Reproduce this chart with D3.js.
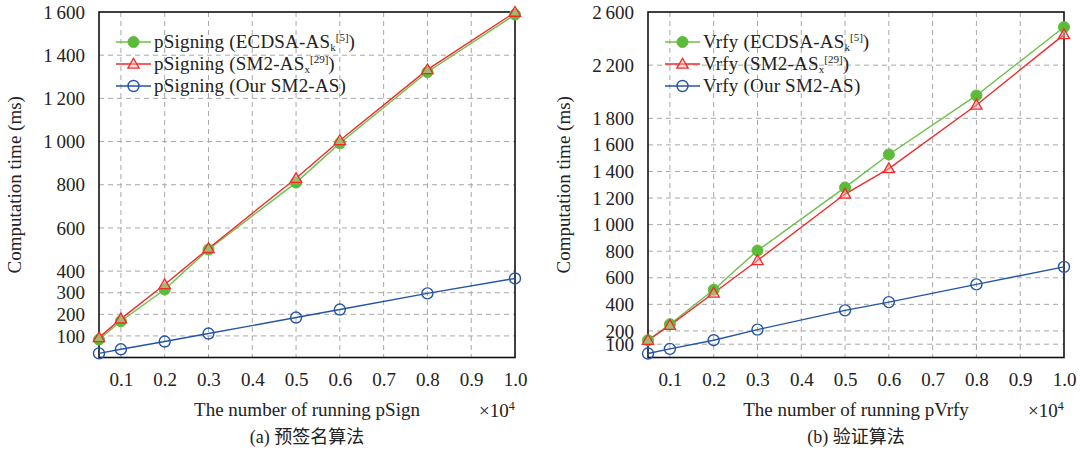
<!DOCTYPE html>
<html><head><meta charset="utf-8">
<script src="https://cdn.jsdelivr.net/npm/d3@7"></script>
<style>
html,body{margin:0;padding:0;background:#fff;}
svg text{font-family:"Liberation Serif","Times New Roman",serif;fill:#222;}
.cap{font-family:"Liberation Serif","Noto Sans CJK SC",serif;}
</style></head>
<body><svg id="c" width="1080" height="455"></svg>
<script>
const xValues = [0.05, 0.1, 0.2, 0.3, 0.5, 0.6, 0.8, 1.0];
const xTicks = [0.1, 0.2, 0.3, 0.4, 0.5, 0.6, 0.7, 0.8, 0.9, 1.0];

const signEcdsa = [83, 168, 315, 500, 810, 992, 1322, 1588];
const signSm2x  = [92, 179, 338, 505, 830, 1005, 1333, 1599];
const signOurs  = [19, 38, 74, 111, 185, 222, 297, 366];
const signYTicks = [100, 200, 300, 400, 600, 800, 1000, 1200, 1400, 1600];

const vrfyEcdsa = [130, 250, 510, 805, 1280, 1528, 1972, 2487];
const vrfySm2x  = [130, 242, 485, 730, 1230, 1422, 1900, 2430];
const vrfyOurs  = [30, 65, 130, 210, 355, 417, 550, 682];
const vrfyYTicks = [100, 200, 400, 600, 800, 1000, 1200, 1400, 1600, 1800, 2200, 2600];

const colGreen = "#6cc04a", colGreenFill = "#5dbb3c";
const colRed = "#ee2a2a", colBlue = "#2454a8";

const svg = d3.select("#c");
const fmt = v => { const s = String(v); return s.length > 3 ? s.slice(0, s.length-3) + "\u2009" + s.slice(-3) : s; };

function panel(opt){
  const g = svg.append("g");
  const x = d3.scaleLinear().domain([0.05, 1.0]).range([opt.left, opt.right]);
  const y = d3.scaleLinear().domain([0, opt.ymax]).range([opt.bottom, opt.top]);

  g.selectAll(".vg").data(xTicks.filter(t => t < 1.0)).enter().append("line")
    .attr("x1", d => x(d)).attr("x2", d => x(d)).attr("y1", opt.top).attr("y2", opt.bottom)
    .attr("stroke", "#a8a8a8").attr("stroke-width", 1).attr("stroke-dasharray", "5,4");
  g.selectAll(".hg").data(opt.yTicks.filter(t => t < opt.ymax)).enter().append("line")
    .attr("x1", opt.left).attr("x2", opt.right).attr("y1", d => y(d)).attr("y2", d => y(d))
    .attr("stroke", "#a8a8a8").attr("stroke-width", 1).attr("stroke-dasharray", "5,4");

  const ax = g.append("g").attr("transform", `translate(0,${opt.bottom})`)
    .call(d3.axisBottom(x).tickValues(xTicks).tickFormat(d3.format(".1f")).tickSize(0).tickPadding(15));
  ax.select(".domain").remove();
  ax.selectAll("text").style("font-size", "19px").attr("fill", "#222");
  const ay = g.append("g").attr("transform", `translate(${opt.left},0)`)
    .call(d3.axisLeft(y).tickValues(opt.yTicks).tickFormat(fmt).tickSize(0).tickPadding(14));
  ay.select(".domain").remove();
  ay.selectAll("text").style("font-size", "19px").attr("fill", "#222");

  g.append("rect").attr("x", opt.left).attr("y", opt.top)
    .attr("width", opt.right - opt.left).attr("height", opt.bottom - opt.top)
    .attr("fill", "none").attr("stroke", "#111").attr("stroke-width", 1.6);

  const line = d3.line().x((d, i) => x(xValues[i])).y(d => y(d));
  const series = [
    {v: opt.ours, c: colBlue, m: "o"},
    {v: opt.ecdsa, c: colGreen, m: "g"},
    {v: opt.sm2x, c: colRed, m: "t"}
  ];
  const tri = d3.symbol().type(d3.symbolTriangle).size(55);
  function marker(sel, m, px, py){
    if (m === "g") sel.append("circle").attr("cx", px).attr("cy", py).attr("r", 5.5).attr("fill", colGreenFill).attr("stroke", colGreenFill);
    else if (m === "o") sel.append("circle").attr("cx", px).attr("cy", py).attr("r", 5.5).attr("fill", "none").attr("stroke", colBlue).attr("stroke-width", 1.4);
    else sel.append("path").attr("d", tri).attr("transform", `translate(${px},${py+0.8})`).attr("fill", "rgba(255,180,180,0.45)").attr("stroke", colRed).attr("stroke-width", 1.3);
  }
  series.forEach(s => {
    g.append("path").datum(s.v).attr("d", line).attr("fill", "none").attr("stroke", s.c).attr("stroke-width", 1.4);
  });
  series.forEach(s => {
    s.v.forEach((v, i) => marker(g, s.m, x(xValues[i]), y(v)));
  });

  const leg = [
    {c: colGreen, m: "g", pre: opt.prefix + " (ECDSA-AS", sub: "k", sup: "[5]"},
    {c: colRed, m: "t", pre: opt.prefix + " (SM2-AS", sub: "x", sup: "[29]"},
    {c: colBlue, m: "o", pre: opt.prefix + " (Our SM2-AS)", sub: null, sup: null}
  ];
  leg.forEach((L, i) => {
    const ly = opt.top + 30 + i * 22;
    g.append("line").attr("x1", opt.left + 17).attr("x2", opt.left + 52).attr("y1", ly).attr("y2", ly)
      .attr("stroke", L.c).attr("stroke-width", 1.4);
    marker(g, L.m, opt.left + 34.5, ly);
    const t = g.append("text").attr("x", opt.left + 55).attr("y", ly + 6).style("font-size", "19px").attr("textLength", null);
    t.append("tspan").text(L.pre).style("letter-spacing", "0.2px");
    if (L.sub) {
      t.append("tspan").text(L.sub).attr("dy", 3).style("font-size", "11px");
      t.append("tspan").text(L.sup).attr("dy", -10).style("font-size", "11px");
      t.append("tspan").text(")").attr("dy", 7);
    }
  });

  const cx = (opt.left + opt.right) / 2;
  svg.append("text").attr("x", cx).attr("y", 416).attr("text-anchor", "middle").style("font-size", "19px").text(opt.xTitle);
  const xt = svg.append("text").attr("x", opt.right - 36).attr("y", 417).style("font-size", "19px");
  xt.append("tspan").text("\u00d710");
  xt.append("tspan").text("4").attr("dy", -7).style("font-size", "12px");
  svg.append("text").attr("class", "cap").attr("x", cx).attr("y", 443).attr("text-anchor", "middle").style("font-size", "18px").text(opt.caption);
  svg.append("text").attr("transform", `translate(${opt.left - 78},${(opt.top + opt.bottom) / 2}) rotate(-90)`)
    .attr("text-anchor", "middle").style("font-size", "19px").text("Computation time (ms)");
}

panel({left: 99, right: 515, top: 12, bottom: 357.5, ymax: 1600, yTicks: signYTicks,
  ecdsa: signEcdsa, sm2x: signSm2x, ours: signOurs, prefix: "pSigning",
  xTitle: "The number of running pSign", caption: "(a) 预签名算法"});
panel({left: 648, right: 1064, top: 12, bottom: 357.5, ymax: 2600, yTicks: vrfyYTicks,
  ecdsa: vrfyEcdsa, sm2x: vrfySm2x, ours: vrfyOurs, prefix: "Vrfy",
  xTitle: "The number of running pVrfy", caption: "(b) 验证算法"});
</script></body></html>
